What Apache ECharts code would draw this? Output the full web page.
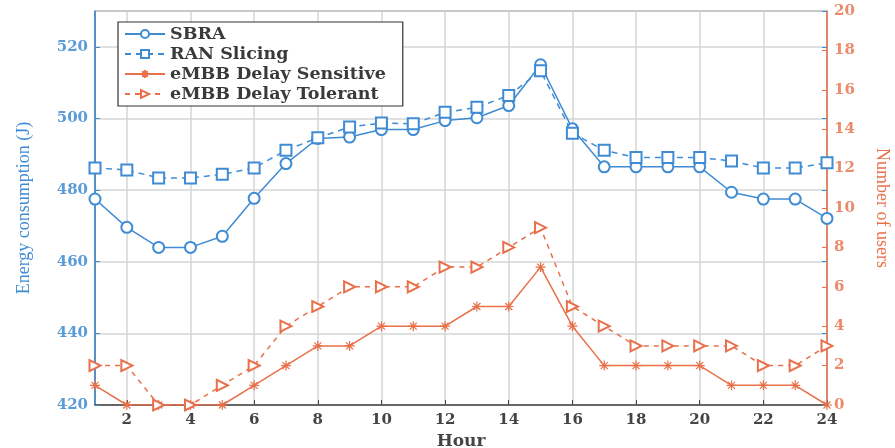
<!DOCTYPE html>
<html>
<head>
<meta charset="utf-8">
<script src="https://cdn.jsdelivr.net/npm/echarts@6/dist/echarts.min.js"></script>
<style>
  html, body { margin: 0; padding: 0; background: #fff; }
  #main { width: 895px; height: 448px; }
</style>
</head>
<body>
<div id="main"></div>
<script>
var hours = ['1','2','3','4','5','6','7','8','9','10','11','12','13','14','15','16','17','18','19','20','21','22','23','24'];
// energy (J), left axis
var sbra = [477.5, 469.6, 464.0, 464.0, 467.1, 477.7, 487.4, 494.4, 494.8, 496.9, 496.9, 499.4,
            500.2, 503.6, 515.0, 497.1, 486.5, 486.5, 486.5, 486.5, 479.4, 477.5, 477.5, 472.1];
var ranSlicing = [486.2, 485.6, 483.4, 483.4, 484.4, 486.2, 491.1, 494.6, 497.6, 498.7, 498.5, 501.7,
                  503.1, 506.4, 513.3, 495.9, 491.1, 489.1, 489.1, 489.1, 488.1, 486.2, 486.2, 487.6];
// number of users, right axis
var delaySensitive = [1, 0, 0, 0, 0, 1, 2, 3, 3, 4, 4, 4, 5, 5, 7, 4, 2, 2, 2, 2, 1, 1, 1, 0];
var delayTolerant = [2, 2, 0, 0, 1, 2, 4, 5, 6, 6, 6, 7, 7, 8, 9, 5, 4, 3, 3, 3, 3, 2, 2, 3];

var blue = '#3f8bd4';
var orange = '#e8704a';
var serif = '"Liberation Serif", "DejaVu Serif", serif';
var wideSerif = '"DejaVu Serif", "Liberation Serif", serif';
var everyOther = function (i) { return i % 2 === 1; };
var asterisk = 'path://M0,5L10,5M5,0L5,10M1.5,1.5L8.5,8.5M8.5,1.5L1.5,8.5';

var chart = echarts.init(document.getElementById('main'));
var option = {
    animation: false,
    textStyle: { fontFamily: serif },
    grid: {
        left: 95, right: 68, top: 11, bottom: 43,
        outerBoundsMode: 'none',
        show: true, borderColor: '#444', borderWidth: 1
    },
    legend: {
        orient: 'vertical',
        left: 118, top: 22,
        padding: [3, 17, 3, 6],
        itemWidth: 40, itemHeight: 10, itemGap: 2,
        backgroundColor: '#fff',
        borderColor: '#333', borderWidth: 1.2,
        textStyle: { fontFamily: wideSerif, fontSize: 17.5, fontWeight: 'bold', color: '#3a3a3a' },
        data: ['SBRA', 'RAN Slicing', 'eMBB Delay Sensitive', 'eMBB Delay Tolerant']
    },
    xAxis: {
        type: 'category',
        data: hours,
        boundaryGap: false,
        name: 'Hour',
        nameLocation: 'middle',
        nameGap: 28,
        nameTextStyle: { fontFamily: wideSerif, fontSize: 17, fontWeight: 'bold', color: '#444' },
        axisLine: { lineStyle: { color: '#444', width: 1.5 } },
        axisTick: { inside: true, interval: everyOther, length: 5, lineStyle: { color: '#444' } },
        axisLabel: { interval: everyOther, fontFamily: wideSerif, fontSize: 15, fontWeight: 'bold', color: '#444', margin: 8 },
        splitLine: { show: true, interval: everyOther, lineStyle: { color: '#d6d6d6', width: 1.5 } }
    },
    yAxis: [
        {
            type: 'value',
            position: 'left',
            min: 420, max: 530, interval: 20,
            name: 'Energy consumption (J)',
            nameLocation: 'middle',
            nameGap: 62,
            nameTextStyle: { fontFamily: serif, fontSize: 18, color: blue },
            axisLine: { show: true, lineStyle: { color: blue, width: 1.5 } },
            axisTick: { show: true, inside: true, length: 5, lineStyle: { color: blue } },
            axisLabel: { showMaxLabel: false, fontFamily: wideSerif, fontSize: 15, fontWeight: 'bold', color: '#5b9bd8', margin: 7 },
            splitLine: { show: true, lineStyle: { color: '#d6d6d6', width: 1.5 } }
        },
        {
            type: 'value',
            position: 'right',
            min: 0, max: 20, interval: 2,
            name: 'Number of users',
            nameLocation: 'middle',
            nameGap: 46,
            nameRotate: -90,
            nameTextStyle: { fontFamily: serif, fontSize: 18, color: orange },
            axisLine: { show: true, lineStyle: { color: orange, width: 1.5 } },
            axisTick: { show: true, inside: true, length: 5, lineStyle: { color: orange } },
            axisLabel: { fontFamily: wideSerif, fontSize: 15, fontWeight: 'bold', color: '#ec8a6a', margin: 7 },
            splitLine: { show: false }
        },
        {
            // left-axis ticks mirrored on the right edge
            type: 'value',
            position: 'right',
            min: 420, max: 530, interval: 20,
            axisLine: { show: false },
            axisTick: { show: true, inside: true, length: 5, lineStyle: { color: blue } },
            axisLabel: { show: false },
            splitLine: { show: false }
        }
    ],
    series: [
        {
            name: 'SBRA', type: 'line', yAxisIndex: 0, data: sbra,
            symbol: 'emptyCircle', symbolSize: 11,
            lineStyle: { color: blue, width: 1.5 },
            itemStyle: { color: blue, borderWidth: 1.3 }
        },
        {
            name: 'RAN Slicing', type: 'line', yAxisIndex: 0, data: ranSlicing,
            symbol: 'emptyRect', symbolSize: 11,
            lineStyle: { color: blue, width: 1.5, type: [6, 5] },
            itemStyle: { color: blue, borderWidth: 1.3 }
        },
        {
            name: 'eMBB Delay Sensitive', type: 'line', yAxisIndex: 1, data: delaySensitive,
            symbol: asterisk, symbolSize: 10,
            lineStyle: { color: orange, width: 1.5 },
            itemStyle: { color: orange, borderColor: orange, borderWidth: 1.2 }
        },
        {
            name: 'eMBB Delay Tolerant', type: 'line', yAxisIndex: 1, data: delayTolerant,
            symbol: 'emptyTriangle', symbolSize: 11, symbolRotate: -90,
            lineStyle: { color: orange, width: 1.5, type: [5, 5] },
            itemStyle: { color: orange, borderWidth: 1.3 }
        }
    ]
};
chart.setOption(option);
</script>
</body>
</html>
